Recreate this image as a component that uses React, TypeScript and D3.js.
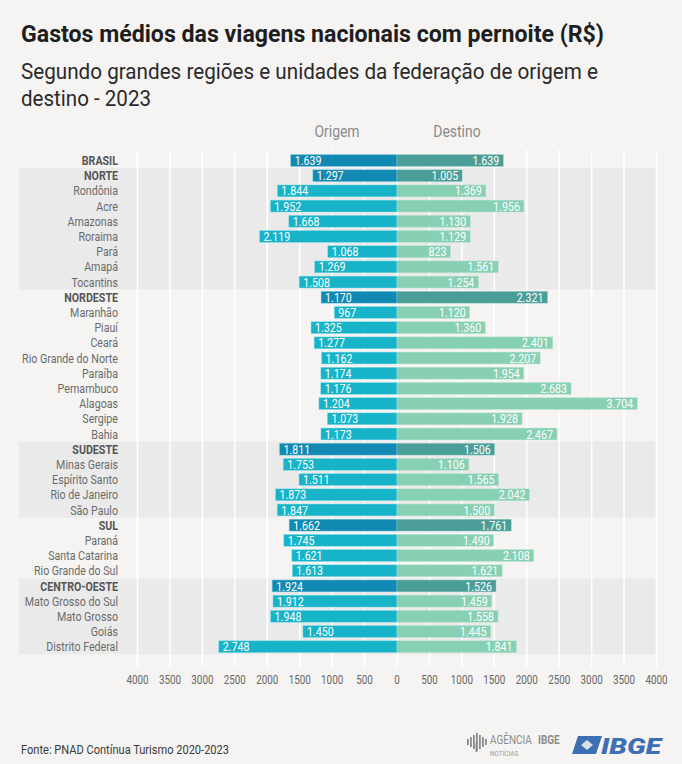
import React from "react";
import * as d3 from "d3";

const categories = [
  "BRASIL", "NORTE", "Rondônia", "Acre", "Amazonas", "Roraima", "Pará", "Amapá", "Tocantins",
  "NORDESTE", "Maranhão", "Piauí", "Ceará", "Rio Grande do Norte", "Paraíba", "Pernambuco", "Alagoas", "Sergipe", "Bahia",
  "SUDESTE", "Minas Gerais", "Espírito Santo", "Rio de Janeiro", "São Paulo",
  "SUL", "Paraná", "Santa Catarina", "Rio Grande do Sul",
  "CENTRO-OESTE", "Mato Grosso do Sul", "Mato Grosso", "Goiás", "Distrito Federal",
];
const regions = ["BRASIL", "NORTE", "NORDESTE", "SUDESTE", "SUL", "CENTRO-OESTE"];
const shadedGroups = [["NORTE", "Tocantins"], ["SUDESTE", "São Paulo"], ["CENTRO-OESTE", "Distrito Federal"]];
const origem = [
  1639, 1297, 1844, 1952, 1668, 2119, 1068, 1269, 1508,
  1170, 967, 1325, 1277, 1162, 1174, 1176, 1204, 1073, 1173,
  1811, 1753, 1511, 1873, 1847,
  1662, 1745, 1621, 1613,
  1924, 1912, 1948, 1450, 2748,
];
const destino = [
  1639, 1005, 1369, 1956, 1130, 1129, 823, 1561, 1254,
  2321, 1120, 1360, 2401, 2207, 1954, 2683, 3704, 1928, 2467,
  1506, 1106, 1565, 2042, 1500,
  1761, 1490, 2108, 1621,
  1526, 1459, 1558, 1445, 1841,
];
const tickValues = [-4000, -3500, -3000, -2500, -2000, -1500, -1000, -500, 0, 500, 1000, 1500, 2000, 2500, 3000, 3500, 4000];

const title = "Gastos médios das viagens nacionais com pernoite (R$)";
const subtitle1 = "Segundo grandes regiões e unidades da federação de origem e";
const subtitle2 = "destino - 2023";
const source = "Fonte: PNAD Contínua Turismo 2020-2023";

const W = 682, H = 764;
const FONT = "Roboto, 'Noto Sans', sans-serif";
const SX = 0.82;

const locale = d3.formatLocale({ decimal: ",", thousands: ".", grouping: [3], currency: ["R$", ""] });
const fmt = locale.format(",d");

function T(props: any) {
  const { x, y, sx = SX, children, ...rest } = props;
  return (
    <text transform={`translate(${x},${y}) scale(${sx},1)`} fontFamily={FONT} {...rest}>
      {children}
    </text>
  );
}

export default function App() {
  const cx = 397;
  const xs = d3.scaleLinear().domain([-4000, 4000]).range([137.5, 656.5]);
  const w = d3.scaleLinear().domain([0, 4000]).range([0, 259.5]);
  const y = d3.scaleBand<string>().domain(categories).range([152.9, 654.3]).paddingInner(0.22).paddingOuter(0.11);
  const step = y.step();
  const bh = y.bandwidth();
  const rowC = (c: string) => (y(c) as number) + bh / 2;

  const cOrReg = "#1289b3", cDeReg = "#4b9e98", cOr = "#17b4c9", cDe = "#88d0b4";

  return (
    <svg width={W} height={H} style={{ position: "absolute", left: 0, top: 0, background: "#f5f4f2" }}>
      <rect x={0} y={0} width={W} height={H} fill="#f5f4f2" />
      <text x={21} y={42} fontFamily={FONT} fontWeight={700} fontSize={24} fill="#1e1e1e" textLength={583} lengthAdjust="spacingAndGlyphs">{title}</text>
      <text x={21} y={79} fontFamily={FONT} fontWeight={400} fontSize={21.5} fill="#2a2a2a" textLength={577} lengthAdjust="spacingAndGlyphs">{subtitle1}</text>
      <text x={21} y={106} fontFamily={FONT} fontWeight={400} fontSize={21.5} fill="#2a2a2a" textLength={130} lengthAdjust="spacingAndGlyphs">{subtitle2}</text>

      <T x={337} y={137} fontSize={17} fill="#8a8a8a" textAnchor="middle">Origem</T>
      <T x={457} y={137} fontSize={17} fill="#8a8a8a" textAnchor="middle">Destino</T>

      {shadedGroups.map(([a, b]) => {
        const y0 = rowC(a) - step / 2;
        const y1 = rowC(b) + step / 2;
        return <rect key={a} x={19} y={y0} width={656 - 19} height={y1 - y0} fill="#ebeaea" />;
      })}

      {tickValues.map((t) => (
        <line key={t} x1={xs(t)} x2={xs(t)} y1={150} y2={667} stroke="#ffffff" strokeWidth={1.5} />
      ))}

      {categories.map((c, i) => {
        const isReg = regions.includes(c);
        const yy = y(c) as number;
        const wo = w(origem[i]);
        const wd = w(destino[i]);
        return (
          <g key={c}>
            <rect x={cx - wo} y={yy} width={wo} height={bh} fill={isReg ? cOrReg : cOr} stroke={isReg ? "#7fd0e6" : "#8fe0ea"} strokeWidth={0.6} strokeOpacity={0.7} />
            <rect x={cx} y={yy} width={wd} height={bh} fill={isReg ? cDeReg : cDe} stroke={isReg ? "#9fd4cf" : "#b8e6d2"} strokeWidth={0.6} strokeOpacity={0.7} />
            <T x={cx - wo + 4} y={yy + bh / 2 + 4.6} fontSize={13} fill="#ffffff">{fmt(origem[i])}</T>
            <T x={cx + wd - 4} y={yy + bh / 2 + 4.6} fontSize={13} fill="#ffffff" textAnchor="end">{fmt(destino[i])}</T>
            <T x={118} y={rowC(c) + 4.6} fontSize={13} fill={isReg ? "#555555" : "#6a6a6a"} fontWeight={isReg ? 700 : 400} textAnchor="end">{c}</T>
          </g>
        );
      })}

      {tickValues.map((t) => (
        <T key={"l" + t} x={xs(t)} y={684} fontSize={12} fill="#666666" textAnchor="middle">{String(Math.abs(t))}</T>
      ))}

      <T x={21} y={754} fontSize={13.5} fill="#3a3a3a">{source}</T>

      {/* Agência IBGE Notícias logo */}
      <g fill="#8c8c8c">
        {[0, 1, 2, 3, 4, 5, 6].map((k) => {
          const hs = [6, 10, 14, 18, 14, 10, 6];
          return <rect key={k} x={467 + k * 3} y={742 - hs[k] / 2} width={1.8} height={hs[k]} />;
        })}
        <rect x={475.5} y={742} width={1.8} height={10} />
      </g>
      <T x={490} y={744} fontSize={12.5} fill="#8c8c8c" sx={0.8}>AGÊNCIA</T>
      <T x={538} y={744} fontSize={12.5} fill="#8c8c8c" fontWeight={700} sx={0.8}>IBGE</T>
      <T x={490} y={755.5} fontSize={7.5} fill="#9a9a9a" sx={0.85}>NOTÍCIAS</T>

      {/* IBGE logo */}
      <path d="M578,736 L602,736 L596,754 L572,754 Z" fill="#3d6fb5" />
      <path d="M581,745 L587,740 L593,745 L587,750 Z" fill="#f5f4f2" opacity={0.85} />
      <text x={601} y={754} fontFamily={FONT} fontWeight={900} fontStyle="italic" fontSize={22} fill="#3d6fb5" textLength={60} lengthAdjust="spacingAndGlyphs">IBGE</text>
    </svg>
  );
}
